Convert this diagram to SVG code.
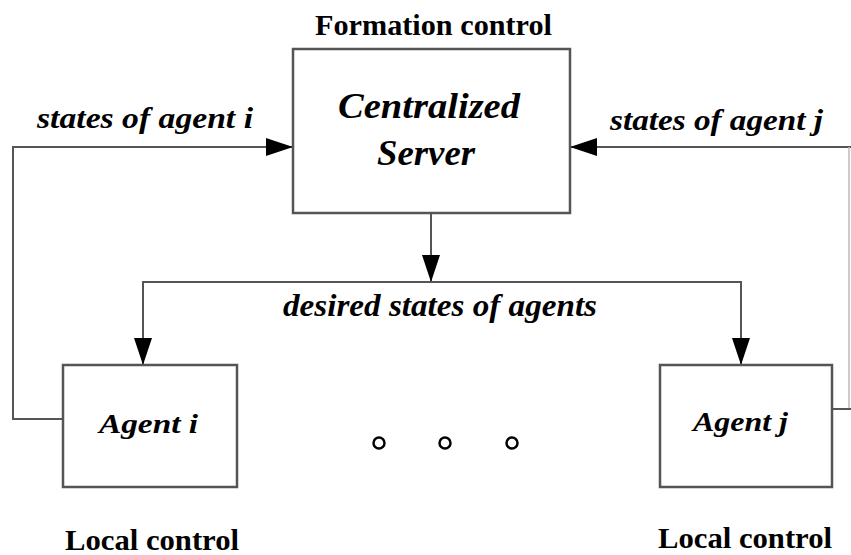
<svg xmlns="http://www.w3.org/2000/svg" width="851" height="555" viewBox="0 0 851 555">
  <defs>
    <marker id="arrow" markerUnits="userSpaceOnUse" markerWidth="27" markerHeight="18" refX="27" refY="9" orient="auto">
      <path d="M0,0 L27,9 L0,18 z" fill="#000"/>
    </marker>
    <style>
      .box { fill: #fff; stroke: #555; stroke-width: 2.5; }
      .wire { fill: none; stroke: #555; stroke-width: 2; }
      .faint { fill: none; stroke: #bbb; stroke-width: 1.5; }
      .lbl { font-family: "Liberation Serif", "Times New Roman", serif; font-style: italic; font-weight: bold; fill: #000; }
      .hdr { font-family: "Liberation Serif", "Times New Roman", serif; font-weight: bold; fill: #000; font-size: 29px; }
      .dot { fill: none; stroke: #000; stroke-width: 2.5; }
    </style>
  </defs>
  <rect width="851" height="555" fill="#fff"/>

  <!-- connectors -->
  <g id="connectors">
    <!-- feedback from agent i to server -->
    <polyline class="wire" points="63,419 13,419 13,147 293,147" marker-end="url(#arrow)"/>
    <!-- feedback from agent j to server -->
    <polyline class="wire" points="851,147 570,147" marker-end="url(#arrow)"/>
    <polyline class="faint" points="849,147 849,409"/>
    <line class="wire" x1="832" y1="409" x2="851" y2="409"/>
    <!-- server to agents -->
    <line class="wire" x1="431" y1="213" x2="431" y2="282" marker-end="url(#arrow)"/>
    <polyline class="wire" points="143,365 143,282 741,282 741,365"/>
    <line class="wire" x1="143" y1="300" x2="143" y2="365" marker-end="url(#arrow)"/>
    <line class="wire" x1="741" y1="300" x2="741" y2="365" marker-end="url(#arrow)"/>
    <text class="lbl" x="37" y="128" font-size="30" textLength="216" lengthAdjust="spacingAndGlyphs">states of agent i</text>
    <text class="lbl" x="610" y="130" font-size="30" textLength="213" lengthAdjust="spacingAndGlyphs">states of agent j</text>
    <text class="lbl" x="283" y="316" font-size="31" textLength="314" lengthAdjust="spacingAndGlyphs">desired states of agents</text>
  </g>

  <!-- central server -->
  <g id="server">
    <text class="hdr" x="315" y="35" textLength="237" lengthAdjust="spacingAndGlyphs">Formation control</text>
    <rect class="box" x="293" y="49" width="277" height="164"/>
    <text class="lbl" x="338" y="118" font-size="35" textLength="182" lengthAdjust="spacingAndGlyphs">Centralized</text>
    <text class="lbl" x="377" y="165" font-size="35" textLength="98" lengthAdjust="spacingAndGlyphs">Server</text>
  </g>

  <!-- agent i -->
  <g id="agent-i">
    <rect class="box" x="63" y="365" width="174" height="122"/>
    <text class="lbl" x="99" y="433" font-size="28" textLength="99" lengthAdjust="spacingAndGlyphs">Agent i</text>
    <text class="hdr" x="65" y="550" textLength="174" lengthAdjust="spacingAndGlyphs">Local control</text>
  </g>

  <!-- agent j -->
  <g id="agent-j">
    <rect class="box" x="660" y="365" width="172" height="122"/>
    <text class="lbl" x="693" y="431" font-size="28" textLength="95" lengthAdjust="spacingAndGlyphs">Agent j</text>
    <text class="hdr" x="658" y="548" textLength="174" lengthAdjust="spacingAndGlyphs">Local control</text>
  </g>

  <!-- ellipsis between agents -->
  <g id="ellipsis">
    <circle class="dot" cx="379" cy="443" r="5.5"/>
    <circle class="dot" cx="445" cy="443" r="5.5"/>
    <circle class="dot" cx="512" cy="443" r="5.5"/>
  </g>
</svg>
